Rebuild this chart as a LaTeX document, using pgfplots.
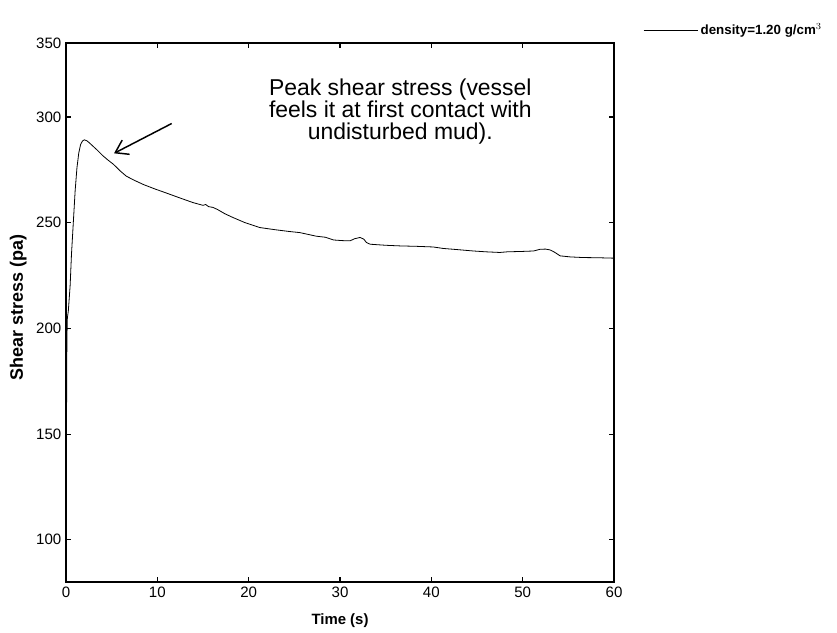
\documentclass[border=0pt]{standalone}
\usepackage{fontspec}
\setmainfont{Liberation Sans}
\usepackage{pgfplots}
\pgfplotsset{compat=1.18}
\usetikzlibrary{arrows.meta}
\begin{document}
\begin{tikzpicture}
\path (0,0) rectangle (627.75pt,474pt);
\begin{axis}[
  at={(49.5pt,37.5pt)}, anchor=south west,
  scale only axis, width=411pt, height=404.25pt,
  xmin=0, xmax=60, ymin=80, ymax=335,
  xtick={0,10,...,60},
  ytick={100,150,200,250,300,335},
  yticklabels={100,150,200,250,300,350},
  tick align=inside, major tick length=4pt,
  axis line style={line width=0.9pt},
  every tick/.style={line width=0.8pt, black},
  /pgf/number format/assume math mode=true,
  ticklabel style={font=\fontsize{11.3pt}{13pt}\selectfont},
  xlabel={\bfseries Time (s)}, ylabel={\bfseries Shear stress (pa)},
  every axis x label/.style={at={(rel axis cs:0.5,-0.072)}, anchor=center, font=\fontsize{11.2pt}{13pt}\selectfont},
  every axis y label/.style={at={(rel axis cs:-0.087,0.51)}, rotate=90, anchor=center, font=\fontsize{13.5pt}{15pt}\selectfont},
  legend style={at={(rel axis cs:1.053,1.024)}, anchor=west, draw=none, fill=none, inner sep=0pt,
    font=\fontsize{10pt}{12pt}\selectfont\bfseries},
  legend cell align=left,
  legend image code/.code={\draw[line width=0.5pt] (0pt,0pt) -- (40.5pt,0pt);},
  clip=true,
]
\addplot[black, line width=0.6pt] coordinates {
(0,84) (0.03,120) (0.06,160) (0.1,195) (0.15,205) (0.25,208) (0.35,214) (0.45,220)
(0.6,235) (0.8,250) (1.0,265) (1.2,276) (1.4,283) (1.6,287) (1.8,288.6) (2.0,289.2)
(2.3,288.7) (2.6,287.6) (3.0,286) (3.5,284) (4.0,281.8) (4.6,279.6) (5.2,277.6)
(5.9,274.6) (6.6,272) (7.5,270) (8.5,268) (9.7,266) (11,264) (12.4,261.8) (13.9,259.5)
(15,258.2) (15.3,258.6) (15.6,257.6) (16.1,257.2) (16.6,256.2) (17.4,254.2) (18.3,252.4)
(19.6,250) (21.2,247.7) (23,246.6) (24.5,245.8) (25.6,245.3) (27.4,243.6) (28.4,243.1) (29.3,241.8)
(30.3,241.5) (31.1,241.4) (31.6,242.4) (32.2,243) (32.6,242.2) (32.9,240.6) (33.3,239.8)
(35,239.3) (36.6,239) (38.4,238.8) (40.2,238.5) (41.3,237.8) (43,237.2) (44.6,236.6)
(46,236.2) (47.5,235.9) (48.3,236.2) (50,236.4) (51.2,236.6) (51.9,237.4) (52.5,237.5)
(53.0,237.1) (53.5,236) (54.1,234.3) (55.2,233.8) (56.6,233.5) (58.3,233.4) (60,233.2)
};
\addlegendentry{density=1.20 g/cm$^{3}$}
\begin{scope}[every node/.style={anchor=base, inner sep=0pt, text height=0.72em, text depth=0.1em,
    font=\fontsize{17.2pt}{15.4pt}\selectfont}]
\node at (axis cs:36.6,310.3) {Peak shear stress (vessel};
\node at (axis cs:36.6,299.9) {feels it at first contact with};
\node at (axis cs:36.6,289.5) {undisturbed mud).};
\end{scope}
\draw[line width=1.1pt, -{Straight Barb[length=9pt,width=12pt,line width=1.1pt]}]
  (axis cs:11.57,296.9) -- (axis cs:5.26,282.8);
\end{axis}
\end{tikzpicture}
\end{document}
